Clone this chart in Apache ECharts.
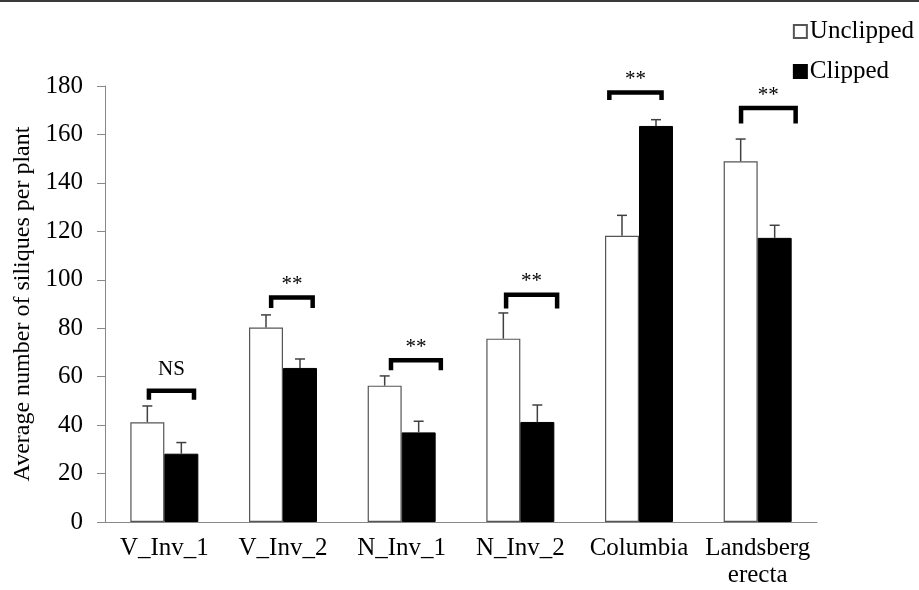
<!DOCTYPE html>
<html>
<head>
<meta charset="utf-8">
<script src="https://cdn.jsdelivr.net/npm/echarts@6/dist/echarts.min.js"></script>
<style>
  html, body { margin: 0; padding: 0; background: #fff; }
  #chart { width: 919px; height: 590px; }
</style>
</head>
<body>
<div id="chart"></div>
<script>
const categories = ['V_Inv_1', 'V_Inv_2', 'N_Inv_1', 'N_Inv_2', 'Columbia', 'Landsberg\nerecta'];
const unclipped = [41.2, 80.3, 56.3, 75.7, 118.2, 148.9];
const unclippedErr = [6.7, 5.2, 4.0, 10.6, 8.4, 9.2];
const clipped = [28.2, 63.6, 37.0, 41.3, 163.5, 117.3];
const clippedErr = [4.6, 3.7, 4.6, 7.0, 2.6, 5.2];
const yTicks = [0, 180, 20]; // min, max, step

// significance brackets: top of bracket, end of legs (values), span in category units
const sigLabels = ['NS', '**', '**', '**', '**', '**'];
const bracketTop = [54.2, 92.7, 66.8, 93.8, 177.3, 170.9];
const bracketEnd = [50.5, 88.4, 62.6, 88.1, 174.2, 164.5];
const bracketFrom = [-0.13, -0.10, -0.09, -0.12, -0.25, -0.14];
const bracketTo = [0.25, 0.25, 0.33, 0.31, 0.19, 0.32];

const serif = "'Liberation Serif', 'Times New Roman', serif";
const catGap = 0.427;

function errRender(side) {
  return function (params, api) {
    const i = api.value(0);
    const band = api.size([1, 0])[0];
    const bw = band * (1 - catGap) / 2;
    const base = api.coord([i, api.value(1)]);
    const top = api.coord([i, api.value(1) + api.value(2)]);
    const x = base[0] + side * bw / 2;
    const style = { stroke: '#404040', lineWidth: 1.5 };
    return {
      type: 'group',
      children: [
        { type: 'line', shape: { x1: x, y1: base[1], x2: x, y2: top[1] }, style },
        { type: 'line', shape: { x1: x - 5, y1: top[1], x2: x + 5, y2: top[1] }, style }
      ]
    };
  };
}

function bracketRender(params, api) {
  const i = api.value(0);
  const band = api.size([1, 0])[0];
  const c = api.coord([i, api.value(1)]);
  const yEnd = api.coord([i, api.value(2)])[1];
  const x1 = c[0] + api.value(3) * band;
  const x2 = c[0] + api.value(4) * band;
  const label = sigLabels[params.dataIndex];
  return {
    type: 'group',
    children: [
      {
        type: 'polyline',
        shape: { points: [[x1, yEnd], [x1, c[1]], [x2, c[1]], [x2, yEnd]] },
        style: { stroke: '#000', lineWidth: 4.5, fill: null, lineJoin: 'miter' }
      },
      {
        type: 'text',
        style: {
          text: label,
          x: (x1 + x2) / 2,
          y: c[1] - (label === 'NS' ? 21 : 13),
          align: 'center',
          verticalAlign: 'middle',
          font: '21px ' + serif,
          fill: '#000'
        }
      }
    ]
  };
}

const chart = echarts.init(document.getElementById('chart'));
chart.setOption({
  animation: false,
  textStyle: { fontFamily: serif },
  graphic: [
    { type: 'rect', shape: { x: 0, y: 0, width: 919, height: 2 }, style: { fill: '#3a3a3a' } }
  ],
  legend: {
    orient: 'vertical',
    right: 0,
    top: 14,
    itemGap: 15,
    itemWidth: 13,
    itemHeight: 13,
    icon: 'rect',
    textStyle: { fontSize: 25, color: '#000', fontFamily: serif, padding: [0, 0, 0, -2] },
    data: ['Unclipped', 'Clipped']
  },
  grid: { left: 105, right: 102, top: 86, bottom: 68, outerBoundsMode: 'none' },
  xAxis: {
    type: 'category',
    data: categories,
    axisLine: { lineStyle: { color: '#888', width: 1 } },
    axisTick: { show: false },
    axisLabel: { color: '#000', fontSize: 25, margin: 13, lineHeight: 27, fontFamily: serif, interval: 0 }
  },
  yAxis: {
    type: 'value',
    min: yTicks[0],
    max: yTicks[1],
    interval: yTicks[2],
    name: 'Average number of siliques per plant',
    nameLocation: 'middle',
    nameGap: 70,
    nameTextStyle: { color: '#000', fontSize: 24, fontFamily: serif },
    axisLine: { show: true, lineStyle: { color: '#888', width: 1 } },
    axisTick: { show: true, length: 8, lineStyle: { color: '#888' } },
    splitLine: { show: false },
    axisLabel: { color: '#000', fontSize: 25, margin: 22, fontFamily: serif }
  },
  series: [
    {
      name: 'Unclipped',
      type: 'bar',
      data: unclipped,
      barGap: '0%',
      barCategoryGap: (catGap * 100) + '%',
      itemStyle: { color: '#fff', borderColor: '#555', borderWidth: 1.2 }
    },
    {
      name: 'Clipped',
      type: 'bar',
      data: clipped,
      itemStyle: { color: '#000', borderColor: '#000', borderWidth: 1 }
    },
    {
      type: 'custom',
      renderItem: errRender(-1),
      data: unclipped.map((v, i) => [i, v, unclippedErr[i]]),
      z: 5,
      silent: true
    },
    {
      type: 'custom',
      renderItem: errRender(1),
      data: clipped.map((v, i) => [i, v, clippedErr[i]]),
      z: 5,
      silent: true
    },
    {
      type: 'custom',
      renderItem: bracketRender,
      clip: false,
      data: bracketTop.map((v, i) => [i, v, bracketEnd[i], bracketFrom[i], bracketTo[i]]),
      z: 6,
      silent: true
    }
  ]
});
</script>
</body>
</html>
